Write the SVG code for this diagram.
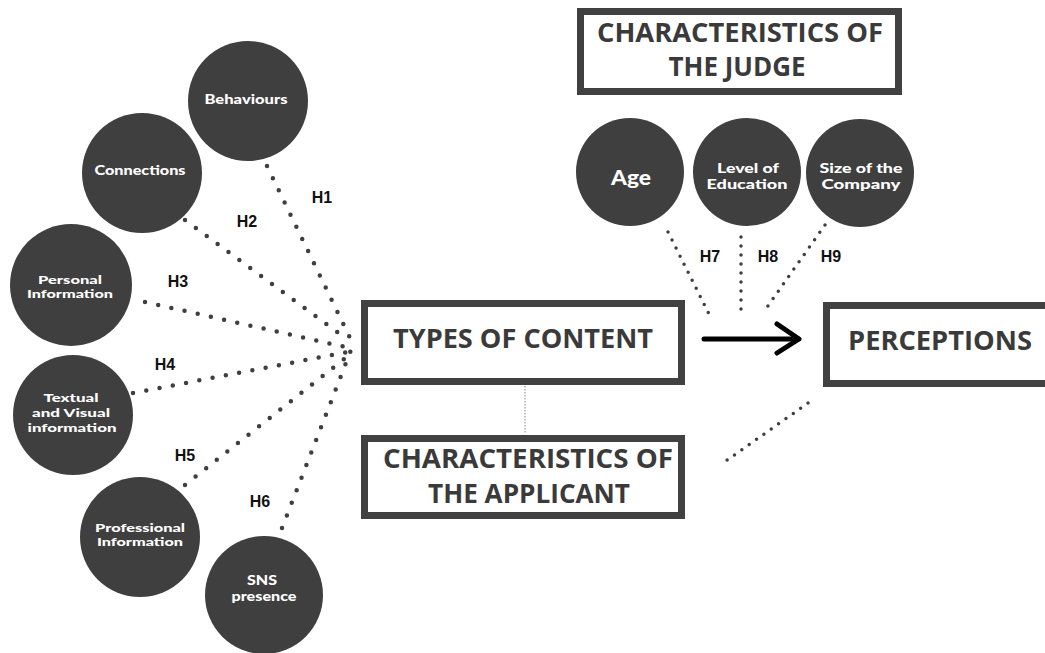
<svg xmlns="http://www.w3.org/2000/svg" width="1045" height="653" viewBox="0 0 1045 653">
<style>
.bg{fill:#ffffff}
.circ{fill:#403f40}
.ct{font-family:"Lato","Open Sans","Liberation Sans",sans-serif;font-weight:900;fill:#ffffff;text-anchor:middle}
.box{fill:#ffffff;stroke:#414141;stroke-width:7}
.bt{font-family:"Open Sans","Liberation Sans",sans-serif;font-weight:700;fill:#3a3a3a;text-anchor:middle}
.h{font-family:"Liberation Sans","Arial",sans-serif;font-weight:700;font-size:16px;fill:#111111;text-anchor:middle}
.dotL{fill:none;stroke:#3f3f3f;stroke-width:4.5;stroke-linecap:round;stroke-dasharray:0 13.5}
.dotS{fill:none;stroke:#3f3f3f;stroke-width:3.5;stroke-linecap:round;stroke-dasharray:0 9}
.thin{fill:none;stroke:#9a9a9a;stroke-width:1.2;stroke-dasharray:1.5 1.5}
.arrow{fill:none;stroke:#000000;stroke-width:5;stroke-linecap:round;stroke-linejoin:round}
</style>
<rect class="bg" x="0" y="0" width="1045" height="653"/>

<g id="connectors">
  <line class="dotL" x1="267" y1="166" x2="352" y2="342"/>
  <line class="dotL" x1="185" y1="220" x2="348" y2="340"/>
  <line class="dotL" x1="145" y1="302" x2="350" y2="348"/>
  <line class="dotL" x1="133" y1="393" x2="348" y2="352"/>
  <line class="dotL" x1="185" y1="485" x2="348" y2="356"/>
  <line class="dotL" x1="282" y1="528" x2="351" y2="350"/>
  <line class="dotS" x1="668" y1="232" x2="710" y2="316"/>
  <line class="dotS" x1="741" y1="237" x2="741" y2="318"/>
  <line class="dotS" x1="825" y1="225" x2="765" y2="310"/>
  <line class="dotS" x1="808" y1="403" x2="723" y2="463"/>
  <line class="thin" x1="525" y1="386" x2="525" y2="434"/>
  <line class="arrow" x1="704" y1="339" x2="798" y2="339"/>
  <polyline class="arrow" points="777,324 799,339 777,353"/>
  <text class="h" x="322" y="203">H1</text>
  <text class="h" x="247" y="227">H2</text>
  <text class="h" x="178" y="287">H3</text>
  <text class="h" x="165" y="370">H4</text>
  <text class="h" x="185" y="461">H5</text>
  <text class="h" x="260" y="507">H6</text>
  <text class="h" x="710" y="262">H7</text>
  <text class="h" x="768" y="262">H8</text>
  <text class="h" x="831" y="262">H9</text>
</g>

<g id="behaviours">
  <circle class="circ" cx="248" cy="101" r="60"/>
  <text class="ct" x="246" y="104" font-size="13" textLength="83" lengthAdjust="spacingAndGlyphs">Behaviours</text>
</g>
<g id="connections">
  <circle class="circ" cx="142" cy="173" r="60"/>
  <text class="ct" x="140" y="175" font-size="13" textLength="91" lengthAdjust="spacingAndGlyphs">Connections</text>
</g>
<g id="personal">
  <circle class="circ" cx="71" cy="285" r="61"/>
  <text class="ct" x="70" y="284" font-size="11.5" textLength="64" lengthAdjust="spacingAndGlyphs">Personal</text>
  <text class="ct" x="70" y="298" font-size="11.5" textLength="86" lengthAdjust="spacingAndGlyphs">Information</text>
</g>
<g id="textual">
  <circle class="circ" cx="73" cy="415" r="60"/>
  <text class="ct" x="71" y="402" font-size="11.5" textLength="55" lengthAdjust="spacingAndGlyphs">Textual</text>
  <text class="ct" x="71" y="417" font-size="11.5" textLength="78" lengthAdjust="spacingAndGlyphs">and Visual</text>
  <text class="ct" x="72" y="432" font-size="11.5" textLength="89" lengthAdjust="spacingAndGlyphs">information</text>
</g>
<g id="professional">
  <circle class="circ" cx="140" cy="537" r="60"/>
  <text class="ct" x="140" y="532" font-size="11.5" textLength="90" lengthAdjust="spacingAndGlyphs">Professional</text>
  <text class="ct" x="140" y="546" font-size="11.5" textLength="86" lengthAdjust="spacingAndGlyphs">Information</text>
</g>
<g id="sns">
  <circle class="circ" cx="264" cy="595" r="59"/>
  <text class="ct" x="262" y="585" font-size="13" textLength="30" lengthAdjust="spacingAndGlyphs">SNS</text>
  <text class="ct" x="264" y="601" font-size="13" textLength="65" lengthAdjust="spacingAndGlyphs">presence</text>
</g>

<g id="age">
  <circle class="circ" cx="630" cy="172" r="54"/>
  <text class="ct" x="631" y="185" font-size="21" textLength="40" lengthAdjust="spacingAndGlyphs">Age</text>
</g>
<g id="education">
  <circle class="circ" cx="747" cy="172" r="54"/>
  <text class="ct" x="748" y="173" font-size="13.5" textLength="62" lengthAdjust="spacingAndGlyphs">Level of</text>
  <text class="ct" x="747" y="189" font-size="13.5" textLength="81" lengthAdjust="spacingAndGlyphs">Education</text>
</g>
<g id="company">
  <circle class="circ" cx="860" cy="173" r="54"/>
  <text class="ct" x="861" y="173" font-size="13.5" textLength="83" lengthAdjust="spacingAndGlyphs">Size of the</text>
  <text class="ct" x="861" y="189" font-size="13.5" textLength="79" lengthAdjust="spacingAndGlyphs">Company</text>
</g>

<g id="judge">
  <rect class="box" x="580.5" y="11.5" width="318" height="80"/>
  <text class="bt" x="740" y="42" font-size="26" textLength="286" lengthAdjust="spacingAndGlyphs">CHARACTERISTICS OF</text>
  <text class="bt" x="737" y="76" font-size="26" textLength="137" lengthAdjust="spacingAndGlyphs">THE JUDGE</text>
</g>
<g id="types">
  <rect class="box" x="364.5" y="303.5" width="317" height="78"/>
  <text class="bt" x="523" y="348" font-size="27" textLength="260" lengthAdjust="spacingAndGlyphs">TYPES OF CONTENT</text>
</g>
<g id="applicant">
  <rect class="box" x="364.5" y="438.5" width="317" height="77"/>
  <text class="bt" x="528" y="468" font-size="26" textLength="290" lengthAdjust="spacingAndGlyphs">CHARACTERISTICS OF</text>
  <text class="bt" x="529" y="503" font-size="26" textLength="202" lengthAdjust="spacingAndGlyphs">THE APPLICANT</text>
</g>
<g id="perceptions">
  <rect class="box" x="826.5" y="305.5" width="230" height="78"/>
  <text class="bt" x="940" y="350" font-size="27" textLength="184" lengthAdjust="spacingAndGlyphs">PERCEPTIONS</text>
</g>
</svg>
